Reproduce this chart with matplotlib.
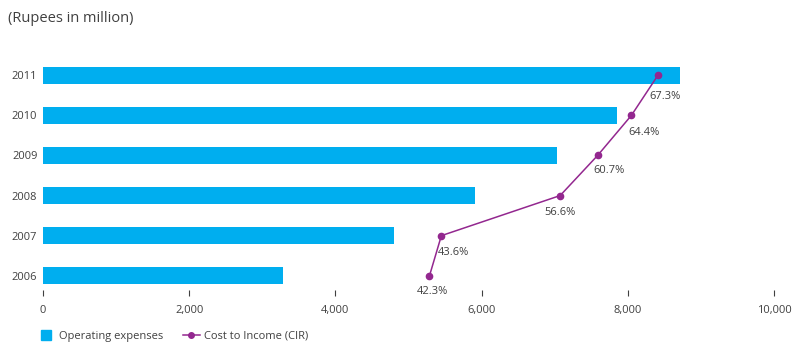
import matplotlib.pyplot as plt
from matplotlib.lines import Line2D

plt.rcParams['font.family'] = ['Open Sans', 'DejaVu Sans']

# Data
years = ['2006', '2007', '2008', '2009', '2010', '2011']
opex = [3280, 4800, 5910, 7030, 7850, 8710]
cir = [42.3, 43.6, 56.6, 60.7, 64.4, 67.3]
cir_labels = ['42.3%', '43.6%', '56.6%', '60.7%', '64.4%', '67.3%']
xticks = [0, 2000, 4000, 6000, 8000, 10000]

# label offsets in points (dx, dy) for the CIR values
label_offsets = [(2, -11), (9, -12), (0, -12), (8, -11), (9, -12), (5, -15)]

blue = '#00aeef'
purple = '#93278f'
grey = '#404040'

fig = plt.figure(figsize=(7.93, 3.45), dpi=100)
ax = fig.add_axes([0.0542, 0.16, 0.9218, 0.68])

ypos = list(range(len(years)))
ax.barh(ypos, opex, height=0.42, color=blue, zorder=2)
ax.set_xlim(0, 10000)
ax.set_ylim(-0.35, 5.5)
ax.set_yticks(ypos)
ax.set_yticklabels(years)
ax.set_xticks(xticks)
ax.set_xticklabels([f'{t:,}' for t in xticks])
for s in ax.spines.values():
    s.set_visible(False)
ax.tick_params(axis='y', length=0, pad=4, labelsize=8, labelcolor=grey)
ax.tick_params(axis='x', length=4, width=0.8, color=grey, pad=7, labelsize=8, labelcolor=grey, direction='out')

# CIR on a hidden secondary scale (0-80%)
ax2 = ax.twiny()
ax2.set_xlim(0, 80)
ax2.axis('off')
ax2.plot(cir, ypos, color=purple, lw=1.1, marker='o', ms=4.5, zorder=3)
for x, y, lab, off in zip(cir, ypos, cir_labels, label_offsets):
    ax2.annotate(lab, (x, y), xytext=off, textcoords='offset points',
                 ha='center', va='center', fontsize=8, color=grey)

fig.text(0.01, 0.945, '(Rupees in million)', fontsize=10.5, color=grey, va='center')

handles = [Line2D([], [], color=blue, marker='s', ms=6.5, ls='none', label='Operating expenses'),
           Line2D([], [], color=purple, marker='o', ms=4, lw=1.1, label='Cost to Income (CIR)')]
fig.legend(handles=handles, loc='center left', bbox_to_anchor=(0.035, 0.025), ncol=2,
           frameon=False, fontsize=8, labelcolor=grey, handlelength=1.5,
           handletextpad=0.4, columnspacing=1.8)

fig.savefig('out.png', dpi=100)
